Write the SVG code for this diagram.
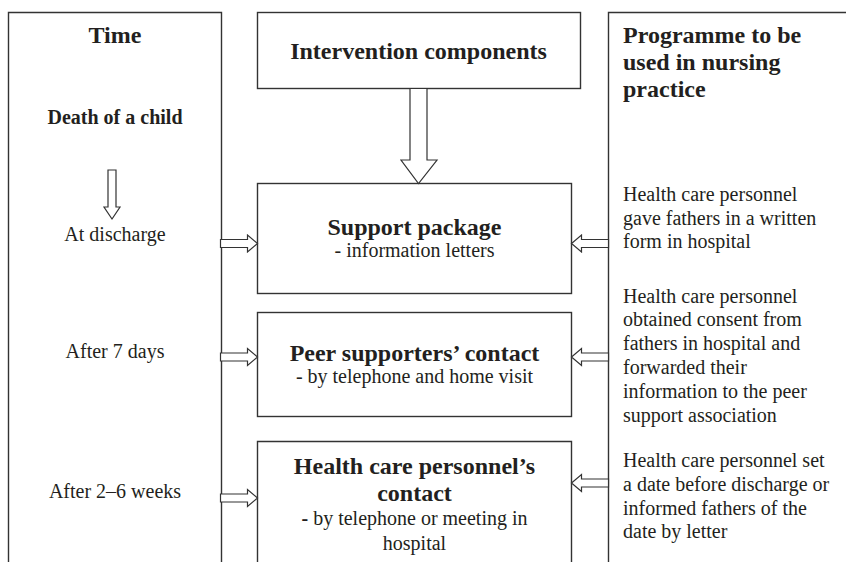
<svg xmlns="http://www.w3.org/2000/svg" xmlns:xlink="http://www.w3.org/1999/xlink" width="846" height="562" viewBox="0 0 846 562">
  <style>
    .frame { fill: none; stroke: #333; stroke-width: 1.4; }
    .box { fill: #fff; stroke: #333; stroke-width: 1.4; }
    .arrow { fill: #fff; stroke: #333; stroke-width: 1.2; stroke-linejoin: miter; }
    text { font-family: "Liberation Serif", "Times New Roman", serif; fill: #231f20; }
    .h1 { font-size: 24px; font-weight: bold; }
    .h2 { font-size: 20px; font-weight: bold; }
    .body { font-size: 20px; }
    .mid { text-anchor: middle; }
  </style>
  <defs>
    <!-- hollow block arrow pointing right, tip at the origin -->
    <path id="harrow" d="M-37,-4 H-10 V-8.5 L0,0 L-10,8.5 V4 H-37 Z"/>
  </defs>

  <rect width="846" height="562" fill="#fff"/>

  <!-- left column: time line -->
  <g id="time-column">
    <path class="frame" d="M8.5,562 V12.5 H221.5 V562"/>
    <text class="h1 mid" x="115" y="43">Time</text>
    <text class="h2 mid" x="115" y="124">Death of a child</text>
    <path class="arrow" d="M108,170 H116 V207 H120 L112,219 L104,207 H108 Z"/>
    <text class="body mid" x="115" y="241">At discharge</text>
    <text class="body mid" x="115" y="358">After 7 days</text>
    <text class="body mid" x="115" y="498">After 2–6 weeks</text>
  </g>

  <!-- right column: programme in nursing practice -->
  <g id="practice-column">
    <path class="frame" d="M608.5,562 V12.5 H846"/>
    <text class="h1" x="623" y="43">Programme to be</text>
    <text class="h1" x="623" y="70">used in nursing</text>
    <text class="h1" x="623" y="97">practice</text>
    <text class="body" x="623">
      <tspan x="623" y="201">Health care personnel</tspan>
      <tspan x="623" y="224.7">gave fathers in a written</tspan>
      <tspan x="623" y="248.4">form in hospital</tspan>
    </text>
    <text class="body" x="623">
      <tspan x="623" y="302.5">Health care personnel</tspan>
      <tspan x="623" y="326.3">obtained consent from</tspan>
      <tspan x="623" y="350.1">fathers in hospital and</tspan>
      <tspan x="623" y="373.9">forwarded their</tspan>
      <tspan x="623" y="397.7">information to the peer</tspan>
      <tspan x="623" y="421.5">support association</tspan>
    </text>
    <text class="body" x="623">
      <tspan x="623" y="467">Health care personnel set</tspan>
      <tspan x="623" y="490.8">a date before discharge or</tspan>
      <tspan x="623" y="514.6">informed fathers of the</tspan>
      <tspan x="623" y="538.4">date by letter</tspan>
    </text>
  </g>

  <!-- centre: intervention components -->
  <g id="components">
    <rect class="box" x="257.5" y="12.5" width="323" height="76"/>
    <text class="h1 mid" x="418.5" y="59">Intervention components</text>
  </g>

  <g id="support-package">
    <rect class="box" x="257.5" y="183.5" width="314" height="110"/>
    <text class="h1 mid" x="414.5" y="235">Support package</text>
    <text class="body mid" x="414.5" y="257">- information letters</text>
  </g>

  <g id="peer-contact">
    <rect class="box" x="257.5" y="312.5" width="314" height="104"/>
    <text class="h1 mid" x="414.5" y="361">Peer supporters’ contact</text>
    <text class="body mid" x="414.5" y="383">- by telephone and home visit</text>
  </g>

  <g id="personnel-contact">
    <path class="box" d="M257.5,563 V441.5 H571.5 V563"/>
    <text class="h1 mid" x="414.5" y="474">Health care personnel’s</text>
    <text class="h1 mid" x="414.5" y="501">contact</text>
    <text class="body mid" x="414.5" y="525"><tspan font-weight="bold">-</tspan> by telephone or meeting in</text>
    <text class="body mid" x="414.5" y="550">hospital</text>
  </g>

  <!-- connectors -->
  <g id="connectors">
    <path class="arrow" d="M410,88.5 H427 V160 H437 L418.5,183.5 L401,160 H410 Z"/>
    <use class="arrow" xlink:href="#harrow" transform="translate(257.5,243.5)"/>
    <use class="arrow" xlink:href="#harrow" transform="translate(257.5,357)"/>
    <use class="arrow" xlink:href="#harrow" transform="translate(257.5,498)"/>
    <use class="arrow" xlink:href="#harrow" transform="translate(571.5,243.5) rotate(180)"/>
    <use class="arrow" xlink:href="#harrow" transform="translate(571.5,357) rotate(180)"/>
    <use class="arrow" xlink:href="#harrow" transform="translate(571.5,483) rotate(180)"/>
  </g>
</svg>
